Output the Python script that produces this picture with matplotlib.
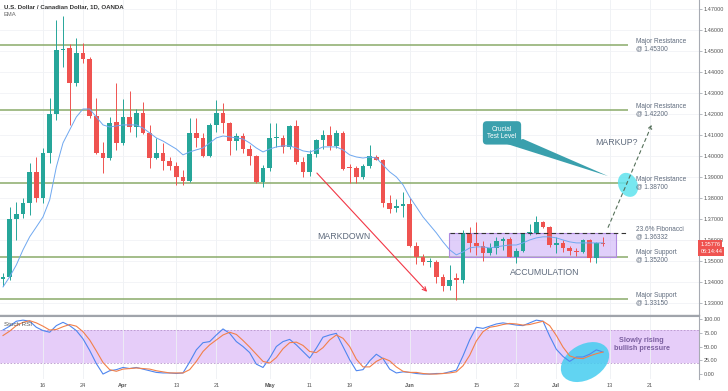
import matplotlib
matplotlib.use("Agg")
import matplotlib.pyplot as plt
import matplotlib.transforms as mtransforms
from matplotlib.patches import Ellipse, Polygon, Rectangle
import numpy as np
import pandas as pd

plt.rcParams['font.family'] = ['Liberation Sans', 'DejaVu Sans']

# daily candles USD/CAD, 6 Mar - 10 Jul 2020
dates = pd.bdate_range('2020-03-06', '2020-07-10')

opens = [1.3413, 1.3424, 1.3700, 1.3724, 1.3776, 1.3922, 1.3800, 1.4015, 1.4200, 1.4505,
         1.4515, 1.4348, 1.4491, 1.4462, 1.4191, 1.4015, 1.3991, 1.4162, 1.4062, 1.4186,
         1.4138, 1.4205, 1.4110, 1.3991, 1.4015, 1.3977, 1.3953, 1.3901, 1.3882, 1.4110,
         1.4086, 1.4000, 1.4148, 1.4205, 1.4157, 1.4072, 1.4096, 1.4034, 1.4000, 1.3875,
         1.3943, 1.4084, 1.4086, 1.4043, 1.4143, 1.3971, 1.3924, 1.4010, 1.4076, 1.4100,
         1.4048, 1.4110, 1.3945, 1.3943, 1.3901, 1.3953, 1.3996, 1.3982, 1.3776, 1.3752,
         1.3761, 1.3771, 1.3571, 1.3519, 1.3495, 1.3495, 1.3424, 1.3381, 1.3419, 1.3409,
         1.3628, 1.3585, 1.3571, 1.3538, 1.3562, 1.3595, 1.3605, 1.3519, 1.3547, 1.3633,
         1.3633, 1.3685, 1.3662, 1.3576, 1.3585, 1.3562, 1.3547, 1.3543, 1.3600, 1.3514,
         1.3585]
highs = [1.3440, 1.3757, 1.3781, 1.3800, 1.3967, 1.3995, 1.4039, 1.4277, 1.4649, 1.4668,
         1.4534, 1.4563, 1.4539, 1.4472, 1.4277, 1.4067, 1.4186, 1.4348, 1.4272, 1.4310,
         1.4224, 1.4258, 1.4148, 1.4086, 1.4062, 1.3996, 1.3972, 1.3934, 1.4181, 1.4181,
         1.4110, 1.4157, 1.4267, 1.4253, 1.4162, 1.4110, 1.4110, 1.4052, 1.4005, 1.3957,
         1.4157, 1.4157, 1.4100, 1.4148, 1.4172, 1.3996, 1.4029, 1.4081, 1.4124, 1.4143,
         1.4124, 1.4119, 1.3962, 1.3952, 1.3962, 1.4052, 1.4005, 1.3986, 1.3814, 1.3795,
         1.3828, 1.3800, 1.3590, 1.3533, 1.3514, 1.3504, 1.3437, 1.3481, 1.3442, 1.3645,
         1.3662, 1.3685, 1.3595, 1.3585, 1.3614, 1.3614, 1.3614, 1.3562, 1.3633, 1.3675,
         1.3714, 1.3690, 1.3666, 1.3614, 1.3599, 1.3571, 1.3562, 1.3605, 1.3605, 1.3590,
         1.3614]
lows = [1.3380, 1.3410, 1.3600, 1.3705, 1.3719, 1.3781, 1.3776, 1.3967, 1.4172, 1.4425,
        1.4148, 1.4334, 1.4444, 1.4181, 1.4010, 1.3920, 1.3980, 1.4029, 1.4050, 1.4115,
        1.4091, 1.4105, 1.3943, 1.3985, 1.3934, 1.3934, 1.3862, 1.3862, 1.3877, 1.4043,
        1.3996, 1.3996, 1.4115, 1.4110, 1.4005, 1.4029, 1.4015, 1.3957, 1.3870, 1.3853,
        1.3930, 1.4043, 1.4015, 1.4034, 1.3962, 1.3900, 1.3905, 1.3995, 1.4033, 1.4029,
        1.4038, 1.3935, 1.3871, 1.3871, 1.3890, 1.3943, 1.3980, 1.3757, 1.3728, 1.3733,
        1.3709, 1.3566, 1.3485, 1.3480, 1.3470, 1.3395, 1.3355, 1.3362, 1.3314, 1.3394,
        1.3542, 1.3528, 1.3500, 1.3528, 1.3533, 1.3550, 1.3519, 1.3490, 1.3542, 1.3623,
        1.3628, 1.3657, 1.3566, 1.3538, 1.3542, 1.3528, 1.3524, 1.3538, 1.3495, 1.3490,
        1.3571]
closes = [1.3421, 1.3700, 1.3724, 1.3776, 1.3922, 1.3800, 1.4015, 1.4200, 1.4505, 1.4512,
          1.4348, 1.4491, 1.4462, 1.4191, 1.4015, 1.3991, 1.4157, 1.4062, 1.4186, 1.4138,
          1.4205, 1.4110, 1.3991, 1.4015, 1.3977, 1.3953, 1.3901, 1.3882, 1.4110, 1.4086,
          1.4000, 1.4148, 1.4205, 1.4157, 1.4072, 1.4096, 1.4034, 1.4000, 1.3875, 1.3943,
          1.4086, 1.4088, 1.4043, 1.4143, 1.3971, 1.3924, 1.4010, 1.4076, 1.4100, 1.4048,
          1.4110, 1.3937, 1.3941, 1.3901, 1.3953, 1.4000, 1.3982, 1.3776, 1.3748, 1.3761,
          1.3771, 1.3571, 1.3519, 1.3495, 1.3500, 1.3424, 1.3381, 1.3409, 1.3409, 1.3633,
          1.3585, 1.3571, 1.3538, 1.3562, 1.3595, 1.3605, 1.3519, 1.3547, 1.3633, 1.3638,
          1.3685, 1.3662, 1.3576, 1.3585, 1.3562, 1.3547, 1.3543, 1.3600, 1.3514, 1.3585,
          1.3578]
ema = [1.3375, 1.3423, 1.3480, 1.3552, 1.3614, 1.3661, 1.3709, 1.3790, 1.3947, 1.4062,
       1.4124, 1.4186, 1.4224, 1.4224, 1.4186, 1.4148, 1.4138, 1.4143, 1.4148, 1.4148,
       1.4148, 1.4133, 1.4110, 1.4086, 1.4071, 1.4052, 1.4033, 1.4005, 1.4019, 1.4029,
       1.4038, 1.4062, 1.4086, 1.4095, 1.4091, 1.4086, 1.4081, 1.4062, 1.4038, 1.4019,
       1.4033, 1.4043, 1.4048, 1.4048, 1.4038, 1.4024, 1.4019, 1.4029, 1.4043, 1.4043,
       1.4043, 1.4029, 1.4005, 1.3995, 1.3990, 1.3995, 1.3990, 1.3957, 1.3924, 1.3900,
       1.3862, 1.3804, 1.3757, 1.3709, 1.3671, 1.3633, 1.3590, 1.3552, 1.3528, 1.3542,
       1.3561, 1.3566, 1.3566, 1.3561, 1.3566, 1.3571, 1.3575, 1.3575, 1.3585, 1.3599,
       1.3609, 1.3614, 1.3614, 1.3609, 1.3599, 1.3590, 1.3585, 1.3585, 1.3585, 1.3585,
       1.3585]
stoch_k = [80, 87, 96, 98, 96, 85, 79, 76, 88, 94, 88, 79, 64, 43, 19, 0, 6, 8, 12, 10,
           12, 9, 6, 3, 2, 2, 1, 2, 22, 44, 57, 59, 71, 82, 74, 59, 50, 39, 18, 12,
           29, 50, 59, 63, 53, 41, 29, 47, 67, 71, 74, 50, 26, 6, 8, 24, 36, 28, 9, 2,
           4, 3, 1, 0, 0, 1, 1, 4, 7, 33, 62, 85, 83, 87, 91, 93, 91, 89, 88, 93,
           98, 96, 69, 45, 32, 23, 31, 31, 36, 44, 40]
stoch_d = [70, 78, 88, 94, 97, 93, 87, 80, 81, 86, 90, 87, 77, 62, 42, 21, 8, 5, 9, 10,
           11, 10, 9, 6, 4, 2, 2, 2, 8, 23, 41, 53, 62, 71, 76, 72, 61, 49, 36, 23,
           20, 30, 46, 57, 58, 52, 41, 39, 48, 62, 71, 65, 50, 27, 13, 13, 23, 29, 24, 13,
           5, 3, 3, 1, 0, 0, 1, 2, 4, 15, 34, 60, 77, 85, 87, 90, 92, 91, 89, 90,
           93, 96, 88, 70, 49, 33, 29, 28, 33, 37, 40]

levels = [1.45300, 1.42200, 1.38700, 1.35200, 1.33150]
level_names = ['Major Resistance', 'Major Resistance', 'Major Resistance',
               'Major Support', 'Major Support']
fib_level = 1.36332
last_price = '1.35776'
countdown = '06:14:44'
price_ticks = np.round(np.arange(1.33, 1.4701, 0.01), 2)
rsi_ticks = [0, 25, 50, 75, 100]
tick_dates = ['2020-03-16', '2020-03-24', '2020-04-01', '2020-04-13', '2020-04-21',
              '2020-05-01', '2020-05-11', '2020-05-19', '2020-06-01', '2020-06-15',
              '2020-06-23', '2020-07-01', '2020-07-13', '2020-07-21']
tick_text = ['16', '24', 'Apr', '13', '21', 'May', '11', '19', 'Jun', '15', '23', 'Jul', '13', '21']

GREEN, RED = '#26a69a', '#ef5350'
LVL = '#8aab6a'
TXT = '#5f6b7d'
LABEL_X = 94.9

fig = plt.figure(figsize=(7.28, 3.91), dpi=100)
ax = fig.add_axes([0, 1 - 315 / 391, 699 / 728, 315 / 391])
ax2 = fig.add_axes([0, 1 - 379 / 391, 699 / 728, 63 / 391])

x = np.arange(len(dates))
all_days = pd.bdate_range('2020-03-06', '2020-07-31')
tick_idx = [all_days.get_loc(pd.Timestamp(d)) for d in tick_dates]

o, h, l, c = map(np.array, (opens, highs, lows, closes))
col = np.where(c >= o, GREEN, RED)

ax.set_xlim(-0.45, 104.4)
ax.set_ylim(1.3241, 1.4744)
ax2.set_xlim(-0.45, 104.4)
ax2.set_ylim(-9, 105.5)

# grid / axes styling
for a in (ax, ax2):
    a.set_xticks(tick_idx)
    a.grid(axis='x', color='#eef0f4', lw=0.6, zorder=0)
    a.yaxis.tick_right()
    a.spines['left'].set_visible(False)
    a.spines['right'].set_color('#a7abb3')
    a.spines['right'].set_linewidth(0.8)
    a.tick_params(axis='y', length=2, width=0.5, color='#9aa0a8', labelsize=4,
                  labelcolor='#555555', pad=1.5)
ax.set_yticks(price_ticks)
ax.set_yticklabels([f'{v:.5f}' for v in price_ticks])
ax.grid(axis='y', color='#f1f2f6', lw=0.6, zorder=0)
ax.spines['top'].set_visible(False)
ax.spines['bottom'].set_color('#a0a4ab')
ax.spines['bottom'].set_linewidth(1.0)
ax.tick_params(axis='x', length=0, labelbottom=False)

ax2.spines['top'].set_color('#a0a4ab')
ax2.spines['bottom'].set_visible(False)
ax2.set_yticks(rsi_ticks)
ax2.set_yticklabels([f'{v:.2f}' for v in rsi_ticks])
ax2.set_xticklabels(tick_text)
ax2.tick_params(axis='x', length=0, labelsize=4, labelcolor='#555555', pad=3)
for lab in ax2.get_xticklabels():
    if lab.get_text().isalpha():
        lab.set_fontweight('bold')

# candles
ax.vlines(x, l, h, colors=col, lw=0.7, zorder=4)
body = np.maximum(np.abs(c - o), 0.0003)
ax.bar(x, body, bottom=np.minimum(o, c), width=0.68, color=col, linewidth=0, zorder=5)
ax.plot(x, ema, color='#6fa8f0', lw=0.7, zorder=6)

# support / resistance levels
ax.hlines(levels, -0.45, 93.7, colors=LVL, lw=1.1, zorder=2)
for lvl, name in zip(levels, level_names):
    ax.text(LABEL_X, lvl, f'{name}\n@ {lvl:.5f}', fontsize=4.7, color=TXT,
            va='center', ha='left', linespacing=1.05, zorder=9)
ax.hlines(fib_level, 67, 93.7, colors='#333333', linestyles=(0, (4, 3)), lw=0.8, zorder=6)
ax.text(LABEL_X, fib_level, f'23.6% Fibonacci\n@ {fib_level:.5f}', fontsize=4.7, color=TXT,
        va='center', ha='left', linespacing=1.05, zorder=9)

# accumulation box
ax.add_patch(Rectangle((66.9, levels[3]), 25.05, fib_level - levels[3],
                       fc=(0.80, 0.69, 0.97, 0.6), ec='#b18be0', lw=0.8, zorder=3))

ax.text(51.15, 1.3614, 'MARKDOWN', fontsize=6.3, color=TXT, ha='center', va='center')
ax.text(81.3, 1.3442, 'ACCUMULATION', fontsize=6.3, color=TXT, ha='center', va='center')
ax.text(92.1, 1.4062, 'MARKUP?', fontsize=6.3, color=TXT, ha='center', va='center')

ax.annotate('', xy=(63.9, 1.3342), xytext=(46.8, 1.3928),
            arrowprops=dict(arrowstyle='->', color='#f23645', lw=0.8, mutation_scale=7), zorder=6)
ax.annotate('', xy=(97.5, 1.4162), xytext=(90.6, 1.3647),
            arrowprops=dict(arrowstyle='->', color='#55705a', lw=0.8, linestyle=(0, (3, 3)),
                            mutation_scale=6), zorder=8)

# callout
ax.add_patch(Polygon([(75.6, 1.4057), (78.0, 1.4081), (90.75, 1.3904)],
                     closed=True, fc='#3aa0ad', ec='none', zorder=7))
ax.text(74.85, 1.4110, 'Crucial\nTest Level', ha='center', va='center', fontsize=4.7,
        color='white', linespacing=1.05, zorder=8,
        bbox=dict(boxstyle='round,pad=0.7,rounding_size=0.6', fc='#3aa0ad', ec='none'))


def px_ellipse(a, cx, cy, w, hgt, ang, color, alpha, z):
    X, Y = a.transData.transform((cx, cy))
    e = Ellipse((0, 0), w, hgt, angle=ang, fc=color, ec='none', alpha=alpha,
                transform=mtransforms.Affine2D().translate(X, Y), clip_on=False, zorder=z)
    a.add_artist(e)


px_ellipse(ax, 93.75, 1.3862, 19, 25, 25, '#5fe3ee', 0.85, 7.5)

# stoch RSI panel
ax2.axhspan(20, 80, fc='#e6cdf9', ec='none', zorder=0)
for v in (20, 80):
    ax2.axhline(v, color='#b895cc', lw=0.6, ls=(0, (2, 2)), zorder=1)
px_ellipse(ax2, 87.3, 21.8, 52, 35, 30, '#45cdf0', 0.85, 2)
ax2.plot(x, stoch_k, color='#4f86ef', lw=0.8, zorder=3)
ax2.plot(x, stoch_d, color='#f2804a', lw=0.8, zorder=3)
ax2.text(95.8, 53.6, 'Slowly rising\nbullish pressure', fontsize=5.2, color='#7b5fa0',
         ha='center', va='center', linespacing=1.05, fontweight='bold')
ax2.text(0.006, 0.87, 'Stoch RSI', transform=ax2.transAxes, fontsize=4.5,
         color='#555555', va='center')

# last price tag
blend = mtransforms.blended_transform_factory(ax.transAxes, ax.transData)
ax.annotate(last_price, xy=(1.0, float(last_price)), xycoords=blend, xytext=(1, 0),
            textcoords='offset points', fontsize=4, color='white', va='center', ha='left',
            bbox=dict(boxstyle='square,pad=0.35', fc=RED, ec='none'), annotation_clip=False)
ax.annotate(countdown, xy=(1.0, float(last_price)), xycoords=blend, xytext=(1, -5),
            textcoords='offset points', fontsize=4, color='white', va='center', ha='left',
            bbox=dict(boxstyle='square,pad=0.35', fc=RED, ec='none'), annotation_clip=False)

fig.text(4 / 728, 1 - 7 / 391, 'U.S. Dollar / Canadian Dollar, 1D, OANDA', fontsize=4.4,
         color='#333333', fontweight='bold', va='center')
fig.text(4 / 728, 1 - 15 / 391, 'EMA', fontsize=4.2, color='#666666', va='center')

fig.savefig('out.png', dpi=100)
